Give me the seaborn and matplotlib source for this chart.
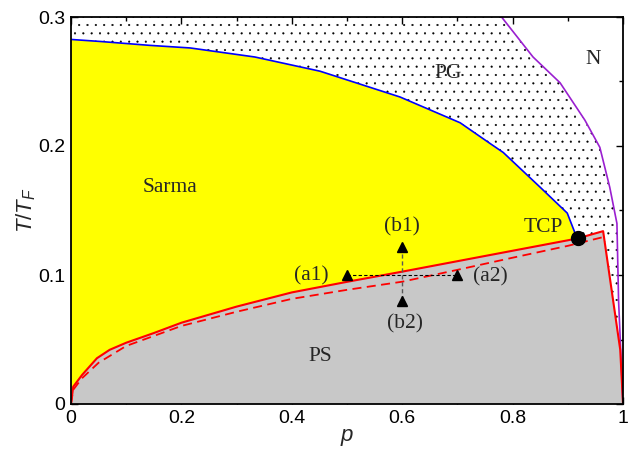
import numpy as np
import pandas as pd
import seaborn as sns
import matplotlib.pyplot as plt
from matplotlib.ticker import MultipleLocator

# phase boundaries
blue_p = [0, 0.054, 0.143, 0.216, 0.333, 0.451, 0.596, 0.705, 0.759, 0.783, 0.85, 0.899, 0.913, 0.918]
blue_T = [0.2826, 0.281, 0.278, 0.276, 0.269, 0.258, 0.238, 0.218, 0.202, 0.195, 0.168, 0.148, 0.1326, 0.129]

red_p = [0, 0.004, 0.02, 0.047, 0.07, 0.1, 0.15, 0.2, 0.3, 0.4, 0.5, 0.6, 0.7, 0.8, 0.9, 0.918, 0.964, 0.982, 0.995, 1.0]
red_T = [0, 0.0134, 0.0225, 0.0355, 0.042, 0.0475, 0.055, 0.063, 0.0755, 0.0865, 0.0947, 0.1026, 0.1107, 0.1188, 0.1269, 0.1284, 0.134, 0.0806, 0.042, 0]

dash_p = [0, 0.004, 0.02, 0.05, 0.1, 0.2, 0.3, 0.4, 0.5, 0.6, 0.7, 0.8, 0.9, 0.967]
dash_T = [0, 0.011, 0.02, 0.032, 0.045, 0.0605, 0.0715, 0.0815, 0.0885, 0.0948, 0.104, 0.1134, 0.1226, 0.1297]

purple_p = [0.78, 0.837, 0.886, 0.931, 0.958, 0.976, 0.989, 0.992, 1.0]
purple_T = [0.3, 0.269, 0.249, 0.220, 0.199, 0.168, 0.14, 0.08, 0]

tcp = (0.918, 0.129)
tri_p = [0.5, 0.7, 0.6, 0.6]
tri_T = [0.1, 0.1, 0.122, 0.08]

labels = ['Sarma', 'PG', 'N', 'TCP', '(b1)', '(a1)', '(a2)', '(b2)', 'PS']
label_p = [0.179, 0.683, 0.945, 0.855, 0.599, 0.436, 0.759, 0.605, 0.451]
label_T = [0.168, 0.256, 0.267, 0.137, 0.137, 0.099, 0.0987, 0.0625, 0.0367]

xticks = [0, 0.2, 0.4, 0.6, 0.8, 1]
xticklabels = ['0', '0.2', '0.4', '0.6', '0.8', '1']
yticks = [0, 0.1, 0.2, 0.3]
yticklabels = ['0', '0.1', '0.2', '0.3']

sns.set_theme(style='ticks')
plt.rcParams['font.family'] = ['Liberation Sans', 'DejaVu Sans']
plt.rcParams['mathtext.fontset'] = 'custom'
plt.rcParams['mathtext.it'] = 'Liberation Sans:italic'
plt.rcParams['mathtext.rm'] = 'Liberation Sans'
plt.rcParams['hatch.linewidth'] = 0.3

fig = plt.figure(figsize=(6.38, 4.49), dpi=100)
ax = fig.add_axes([71/638, 45/449, 552/638, 387/449])

# PG region (dotted), everything left of the purple line
ax.fill([0, 0] + purple_p, [0, 0.3] + purple_T, facecolor='white', edgecolor='black',
        hatch='..', linewidth=0, zorder=0)

# Sarma region (yellow): under blue, above red
red = pd.DataFrame({'p': red_p, 'T': red_T})
low = red[red['p'] <= tcp[0]].iloc[::-1]
ax.fill(blue_p + low['p'].tolist(), blue_T + low['T'].tolist(), color='yellow', linewidth=0, zorder=1)

# PS region (gray)
ax.fill(red_p, red_T, color='#c8c8c8', linewidth=0, zorder=1)

sns.lineplot(x=blue_p, y=blue_T, sort=False, color='blue', lw=1.2, ax=ax, zorder=3)
sns.lineplot(x=purple_p, y=purple_T, sort=False, color='#9a1fd0', lw=1.2, ax=ax, zorder=3)
sns.lineplot(x=red_p, y=red_T, sort=False, color='red', lw=1.5, ax=ax, zorder=3)
sns.lineplot(x=dash_p, y=dash_T, sort=False, color='red', lw=1.3, ax=ax, zorder=3,
             linestyle=(0, (5, 3)))

# paths between the marked points
ax.plot(tri_p[:2], tri_T[:2], color='black', lw=0.8, ls=(0, (3, 2)), zorder=4)
ax.plot(tri_p[2:], tri_T[2:], color='0.35', lw=1.0, ls=(0, (3, 2)), zorder=4)
ax.plot(tri_p, tri_T, ls='none', marker='^', ms=7, color='black', zorder=5)
ax.plot([tcp[0]], [tcp[1]], ls='none', marker='o', ms=10, color='black', zorder=5)

for s, x, y in zip(labels, label_p, label_T):
    ax.text(x, y, s, family='Liberation Serif', fontsize=15.5, ha='center', va='center', zorder=6)

ax.set_xlim(0, 1)
ax.set_ylim(0, 0.3)
ax.set_xticks(xticks)
ax.set_xticklabels(xticklabels)
ax.set_yticks(yticks)
ax.set_yticklabels(yticklabels)
ax.xaxis.set_minor_locator(MultipleLocator(0.1))
ax.yaxis.set_minor_locator(MultipleLocator(0.05))
ax.tick_params(which='both', direction='in', top=True, right=True, labelsize=14, pad=4, width=1, colors='black')
ax.tick_params(which='major', length=5)
ax.tick_params(which='minor', length=3)
for sp in ax.spines.values():
    sp.set_linewidth(1.3)
    sp.set_color('black')
    sp.set_zorder(7)

ax.set_xlabel('$p$', fontsize=16, labelpad=0)
ax.set_ylabel('$T/T_F$', fontsize=16, labelpad=0)

fig.savefig('out.png', dpi=100)
